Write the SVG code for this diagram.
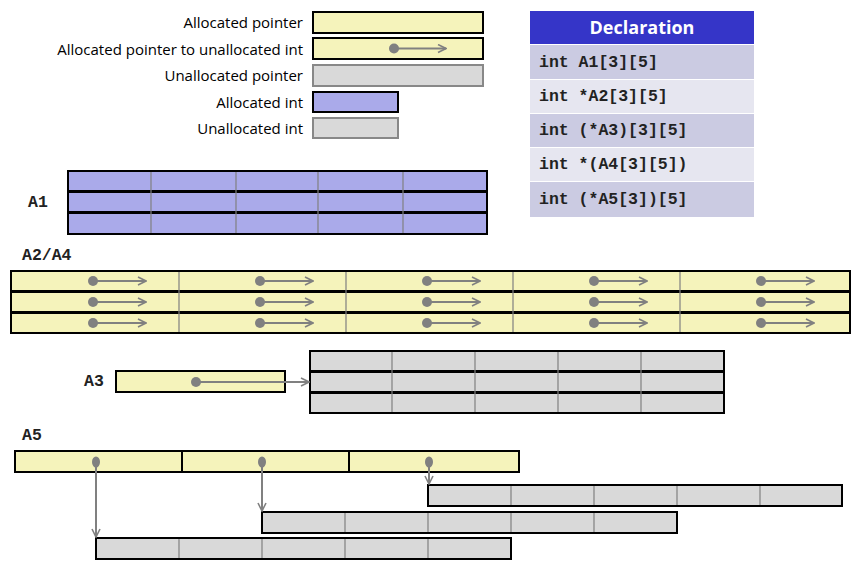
<svg xmlns="http://www.w3.org/2000/svg" width="855" height="570" viewBox="0 0 855 570">
<defs>
<marker id="ah" viewBox="0 0 10 10" refX="9" refY="5" markerWidth="10" markerHeight="10" markerUnits="userSpaceOnUse" orient="auto"><path d="M1,1 L9,5 L1,9" fill="none" stroke="#808080" stroke-width="1.6"/></marker>
</defs>
<style>
.lbl{font-family:"Open Sans","Liberation Sans",Arial,sans-serif;font-size:15px;fill:#000;text-anchor:end}
.mono{font-family:"Liberation Mono","Courier New",monospace;font-size:16.5px;font-weight:bold;fill:#222}
.ptr{fill:#f5f3bb;stroke:#000;stroke-width:2}
.uptr{fill:#d9d9d9;stroke:#888;stroke-width:2}
.aint{fill:#aaaaea;stroke:#000;stroke-width:2}
.uint{fill:#d9d9d9;stroke:#888;stroke-width:2}
.gbox{fill:#d9d9d9;stroke:#000;stroke-width:2}
.div{stroke:#808080;stroke-width:1.2}
.arr{stroke:#808080;stroke-width:2;fill:none;marker-end:url(#ah)}
.dot{fill:#808080}
</style>
<g id="legend">
<text class="lbl" x="303" y="28">Allocated  pointer</text>
<text class="lbl" x="303" y="55">Allocated  pointer to unallocated int</text>
<text class="lbl" x="303" y="81">Unallocated pointer</text>
<text class="lbl" x="303" y="108">Allocated  int</text>
<text class="lbl" x="303" y="134">Unallocated  int</text>
<rect class="ptr" x="313" y="12" width="170" height="21"/>
<rect class="ptr" x="313" y="38" width="170" height="21"/>
<circle class="dot" cx="394" cy="48.5" r="5"/><line class="arr" x1="394" y1="48.5" x2="446" y2="48.5"/>
<rect class="uptr" x="313" y="65" width="170" height="21"/>
<rect class="aint" x="313" y="92" width="85" height="20"/>
<rect class="uint" x="313" y="118" width="85" height="20"/>
</g>
<g id="declaration">
<rect x="530" y="11" width="224" height="33" fill="#3535c8"/>
<text x="642" y="34" text-anchor="middle" font-family="Open Sans,Liberation Sans,Arial,sans-serif" font-size="18" font-weight="bold" fill="#fff">Declaration</text>
<rect x="530" y="45" width="224" height="34" fill="#cbcbe2"/>
<rect x="530" y="80" width="224" height="33" fill="#e6e6f0"/>
<rect x="530" y="114" width="224" height="33" fill="#cbcbe2"/>
<rect x="530" y="148" width="224" height="33" fill="#e6e6f0"/>
<rect x="530" y="182" width="224" height="35" fill="#cbcbe2"/>
<text class="mono" x="539" y="67">int A1[3][5]</text>
<text class="mono" x="539" y="101">int *A2[3][5]</text>
<text class="mono" x="539" y="135">int (*A3)[3][5]</text>
<text class="mono" x="539" y="169">int *(A4[3][5])</text>
<text class="mono" x="539" y="204">int (*A5[3])[5]</text>
</g>
<g id="A1">
<text class="mono" x="28" y="207">A1</text>
<rect class="aint" x="68" y="171" width="419" height="20"/>
<rect class="aint" x="68" y="192" width="419" height="20"/>
<rect class="aint" x="68" y="213" width="419" height="21"/>
<path class="div" d="M151,172V233M236,172V233M318,172V233M403,172V233"/>
</g>
<g id="A2A4">
<text class="mono" x="22" y="260">A2/A4</text>
<rect class="ptr" x="11" y="271" width="839" height="20"/>
<rect class="ptr" x="11" y="292" width="839" height="20"/>
<rect class="ptr" x="11" y="313" width="839" height="20"/>
<path class="div" d="M179,272V332M346,272V332M513,272V332M680,272V332"/>
</g>
<g id="A3">
<text class="mono" x="84" y="386">A3</text>
<rect class="ptr" x="116" y="371" width="169" height="21"/>
<rect class="gbox" x="310" y="351" width="414" height="20"/>
<rect class="gbox" x="310" y="372" width="414" height="20"/>
<rect class="gbox" x="310" y="393" width="414" height="20"/>
<path class="div" d="M392,352V412M475,352V412M558,352V412M641,352V412"/>
</g>
<g id="A5">
<text class="mono" x="22" y="440">A5</text>
<rect class="ptr" x="15" y="451" width="167" height="21"/>
<rect class="ptr" x="182" y="451" width="167" height="21"/>
<rect class="ptr" x="349" y="451" width="170" height="21"/>
<rect class="gbox" x="428" y="485" width="414" height="21"/>
<path class="div" d="M511,486V505M594,486V505M677,486V505M760,486V505"/>
<rect class="gbox" x="262" y="512" width="415" height="21"/>
<path class="div" d="M345,513V532M428,513V532M511,513V532M594,513V532"/>
<rect class="gbox" x="96" y="538" width="415" height="21"/>
<path class="div" d="M179,539V558M262,539V558M345,539V558M428,539V558"/>
</g>
<g id="connectors">
<g id="a2dots">
<circle class="dot" cx="93" cy="281" r="5"/><line class="arr" x1="93" y1="281" x2="146" y2="281"/>
<circle class="dot" cx="260" cy="281" r="5"/><line class="arr" x1="260" y1="281" x2="313" y2="281"/>
<circle class="dot" cx="427" cy="281" r="5"/><line class="arr" x1="427" y1="281" x2="480" y2="281"/>
<circle class="dot" cx="594" cy="281" r="5"/><line class="arr" x1="594" y1="281" x2="647" y2="281"/>
<circle class="dot" cx="761" cy="281" r="5"/><line class="arr" x1="761" y1="281" x2="814" y2="281"/>
<circle class="dot" cx="93" cy="302" r="5"/><line class="arr" x1="93" y1="302" x2="146" y2="302"/>
<circle class="dot" cx="260" cy="302" r="5"/><line class="arr" x1="260" y1="302" x2="313" y2="302"/>
<circle class="dot" cx="427" cy="302" r="5"/><line class="arr" x1="427" y1="302" x2="480" y2="302"/>
<circle class="dot" cx="594" cy="302" r="5"/><line class="arr" x1="594" y1="302" x2="647" y2="302"/>
<circle class="dot" cx="761" cy="302" r="5"/><line class="arr" x1="761" y1="302" x2="814" y2="302"/>
<circle class="dot" cx="93" cy="323" r="5"/><line class="arr" x1="93" y1="323" x2="146" y2="323"/>
<circle class="dot" cx="260" cy="323" r="5"/><line class="arr" x1="260" y1="323" x2="313" y2="323"/>
<circle class="dot" cx="427" cy="323" r="5"/><line class="arr" x1="427" y1="323" x2="480" y2="323"/>
<circle class="dot" cx="594" cy="323" r="5"/><line class="arr" x1="594" y1="323" x2="647" y2="323"/>
<circle class="dot" cx="761" cy="323" r="5"/><line class="arr" x1="761" y1="323" x2="814" y2="323"/>
</g>
<circle class="dot" cx="196" cy="382" r="5"/><line class="arr" x1="196" y1="382" x2="309" y2="382"/>
<ellipse class="dot" cx="96" cy="462" rx="4" ry="5.5"/><line class="arr" x1="96" y1="462" x2="96" y2="537"/>
<ellipse class="dot" cx="262" cy="462" rx="4" ry="5.5"/><line class="arr" x1="262" y1="462" x2="262" y2="511"/>
<ellipse class="dot" cx="429" cy="462" rx="4" ry="5.5"/><line class="arr" x1="429" y1="462" x2="429" y2="484"/>
</g>
</svg>
